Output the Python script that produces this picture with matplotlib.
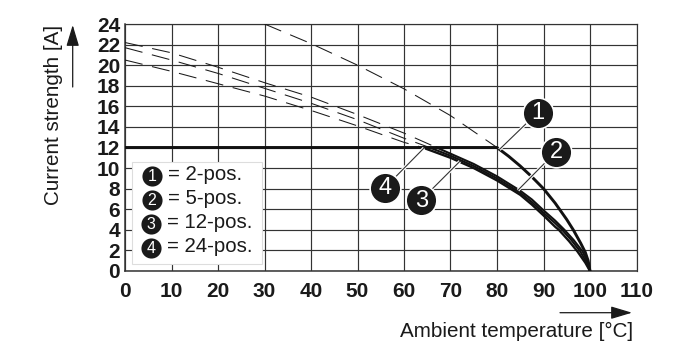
import matplotlib
matplotlib.use("Agg")
import matplotlib.pyplot as plt

plt.rcParams['font.family'] = ['Liberation Sans', 'DejaVu Sans']
plt.rcParams['lines.scale_dashes'] = False

# derating curves, solid part
solid_x_1 = [0, 80, 82.5, 85, 87.5, 90, 92.5, 95, 96.4, 98, 99, 99.6, 100]
solid_y_1 = [12, 12, 11.15, 10.2, 9.15, 8.0, 6.6, 5.0, 4.0, 2.7, 1.8, 1.0, 0]
solid_x_2 = [67, 70, 75, 80, 85, 87.5, 90, 92.5, 94.5, 96.5, 98.4, 99.4, 100]
solid_y_2 = [12, 11.4, 10.4, 9.2, 7.8, 6.95, 5.9, 4.9, 4.0, 3.0, 1.9, 1.0, 0]
solid_x_3 = [65.5, 70, 75, 80, 85, 87.5, 90, 92.5, 94, 96, 97.9, 99.2, 100]
solid_y_3 = [12, 11.2, 10.2, 9.0, 7.6, 6.7, 5.65, 4.65, 4.0, 3.0, 1.9, 0.9, 0]
solid_x_4 = [64, 70, 75, 80, 85, 87.5, 90, 92.5, 93.3, 95.5, 97.3, 99, 100]
solid_y_4 = [12, 11.0, 10.0, 8.8, 7.4, 6.45, 5.4, 4.3, 4.0, 2.9, 1.9, 0.8, 0]

# dashed continuation above 12 A
dash_x_1 = [30, 40, 50, 60, 70, 80]
dash_y_1 = [24, 22.1, 20.0, 17.7, 15.1, 12]
dash_x_2 = [0, 10, 20, 30, 40, 50, 60, 67]
dash_y_2 = [22.2, 21.2, 19.8, 18.3, 16.9, 15.2, 13.4, 12]
dash_x_3 = [0, 10, 20, 30, 40, 50, 60, 65.5]
dash_y_3 = [21.7, 20.5, 19.2, 17.75, 16.3, 14.7, 12.9, 12]
dash_x_4 = [0, 10, 20, 30, 40, 50, 60, 64]
dash_y_4 = [20.5, 19.4, 18.2, 17.0, 15.6, 14.1, 12.5, 12]

x_ticks = list(range(0, 120, 10))
y_ticks = list(range(0, 26, 2))

legend_labels = ['2-pos.', '5-pos.', '12-pos.', '24-pos.']
legend_x = [5.8, 5.8, 5.6, 5.6]
legend_y = [9.26, 6.93, 4.6, 2.26]

# number, circle position, where the leader touches the curve
callout_names = ['1', '2', '3', '4']
callout_x = [88.75, 92.7, 63.7, 55.9]
callout_y = [15.4, 11.6, 6.9, 8.1]
leader_x = [80.5, 84.5, 72, 64.3]
leader_y = [11.8, 7.85, 10.65, 11.95]

fig = plt.figure(figsize=(7, 3.63), dpi=100)
ax = fig.add_axes([125 / 700, 92 / 363, 511.5 / 700, 247 / 363])
ax.set_xlim(0, 110)
ax.set_ylim(0, 24)

ax.set_xticks(x_ticks)
ax.set_yticks(y_ticks)
ax.grid(True, color='#333333', linewidth=0.85, zorder=1)
ax.set_axisbelow(True)
ax.tick_params(axis='x', length=0, pad=8)
ax.tick_params(axis='y', length=0, pad=3.5)
for lab in ax.get_xticklabels() + ax.get_yticklabels():
    lab.set_fontsize(15)
    lab.set_fontweight('bold')
    lab.set_color('#1a1a1a')
for s in ax.spines.values():
    s.set_color('#333333')
    s.set_linewidth(0.85)
ax.spines['left'].set_linewidth(1.1)
ax.spines['bottom'].set_linewidth(1.1)

for dx, dy in [(dash_x_1, dash_y_1), (dash_x_2, dash_y_2),
               (dash_x_3, dash_y_3), (dash_x_4, dash_y_4)]:
    ax.plot(dx, dy, color='#1a1a1a', linewidth=0.75, dashes=(13, 7), zorder=3)

ax.plot(solid_x_1, solid_y_1, color='#111111', linewidth=2.1, zorder=4,
        solid_joinstyle='round')
ax.plot(solid_x_2, solid_y_2, color='#111111', linewidth=1.5, zorder=4)
ax.plot(solid_x_3, solid_y_3, color='#111111', linewidth=1.5, zorder=4)
ax.plot(solid_x_4, solid_y_4, color='#111111', linewidth=1.7, zorder=4)

# legend box
ax.fill([1.5, 29.4, 29.4, 1.5], [0.7, 0.7, 10.6, 10.6], facecolor='white',
        edgecolor='#dddddd', linewidth=0.8, zorder=5)
ax.scatter(legend_x, legend_y, s=210, color='#1a1a1a', linewidths=0, zorder=6)
for i, lab in enumerate(legend_labels):
    ax.text(legend_x[i], legend_y[i] - 0.05, str(i + 1), color='white', fontsize=11.5,
            ha='center', va='center', zorder=7)
    ax.text(legend_x[i] + 3.4, legend_y[i] + 0.1, '= ' + lab, color='#1a1a1a', fontsize=14.7,
            ha='left', va='center', zorder=7)

# numbered callouts
for i, name in enumerate(callout_names):
    ax.plot([leader_x[i], callout_x[i]], [leader_y[i], callout_y[i]], color='white',
            linewidth=2.4, zorder=5, solid_capstyle='butt')
    ax.plot([leader_x[i], callout_x[i]], [leader_y[i], callout_y[i]], color='#333333',
            linewidth=0.8, zorder=6)
    ax.scatter(callout_x[i], callout_y[i], s=490, color='#1a1a1a', edgecolors='white',
               linewidths=1.2, zorder=7)
    ax.text(callout_x[i], callout_y[i] - 0.05, name, color='white', fontsize=17,
            ha='center', va='center', zorder=8)

# axis captions with arrows
fig.text(54 / 700, 1 - 115 / 363, 'Current strength [A]', rotation=90, fontsize=14.9,
         color='#1a1a1a', ha='center', va='center')
fig.text(633 / 700, 1 - 331 / 363, 'Ambient temperature [°C]', fontsize=14.9,
         color='#1a1a1a', ha='right', va='center')
ax.annotate('', xy=(72.7, 363 - 25), xytext=(72.7, 363 - 87), xycoords='figure pixels',
            textcoords='figure pixels', annotation_clip=False,
            arrowprops=dict(arrowstyle='-|>,head_length=1.0,head_width=0.3', color='#1a1a1a',
                            linewidth=0.9, mutation_scale=13, shrinkA=0, shrinkB=0))
ax.annotate('', xy=(632, 363 - 312.7), xytext=(560, 363 - 312.7), xycoords='figure pixels',
            textcoords='figure pixels', annotation_clip=False,
            arrowprops=dict(arrowstyle='-|>,head_length=1.0,head_width=0.3', color='#1a1a1a',
                            linewidth=0.9, mutation_scale=13, shrinkA=0, shrinkB=0))

fig.savefig('out.png', dpi=100, facecolor='white')
